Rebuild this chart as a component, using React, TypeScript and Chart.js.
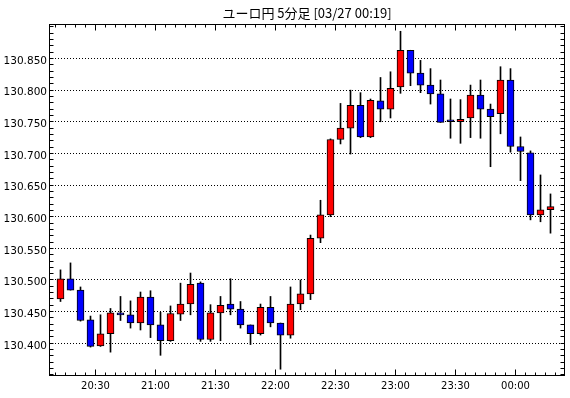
import React, { useEffect, useRef } from "react";
import { Chart, registerables } from "chart.js";

Chart.register(...registerables);

const TITLE = "ユーロ円 5分足 [03/27 00:19]";

// first candle: 20:10, minutes counted from 20:00; 5-minute candles
const START_MINUTE = 10;
const STEP_MINUTES = 5;

const OPEN = [
  130.47, 130.502, 130.484, 130.437, 130.396, 130.415, 130.448, 130.445, 130.432, 130.473,
  130.429, 130.404, 130.446, 130.462, 130.495, 130.406, 130.448, 130.462, 130.454, 130.429,
  130.415, 130.457, 130.432, 130.413, 130.462, 130.478, 130.566, 130.603, 130.722, 130.74,
  130.776, 130.726, 130.783, 130.77, 130.805, 130.863, 130.827, 130.808, 130.794, 130.751,
  130.75, 130.756, 130.792, 130.77, 130.763, 130.816, 130.711, 130.701, 130.603, 130.611,
];
const HIGH = [
  130.516, 130.527, 130.489, 130.443, 130.445, 130.455, 130.474, 130.467, 130.481, 130.483,
  130.449, 130.459, 130.495, 130.511, 130.497, 130.461, 130.474, 130.502, 130.466, 130.429,
  130.462, 130.474, 130.432, 130.489, 130.5, 130.571, 130.626, 130.723, 130.779, 130.8,
  130.796, 130.786, 130.82, 130.829, 130.893, 130.863, 130.847, 130.834, 130.816, 130.786,
  130.785, 130.808, 130.816, 130.778, 130.837, 130.834, 130.726, 130.704, 130.666, 130.636,
];
const LOW = [
  130.466, 130.484, 130.435, 130.394, 130.395, 130.386, 130.436, 130.424, 130.421, 130.409,
  130.381, 130.403, 130.436, 130.445, 130.403, 130.403, 130.404, 130.445, 130.424, 130.398,
  130.413, 130.426, 130.359, 130.408, 130.453, 130.469, 130.559, 130.6, 130.715, 130.699,
  130.725, 130.725, 130.75, 130.756, 130.795, 130.807, 130.796, 130.778, 130.749, 130.724,
  130.716, 130.725, 130.724, 130.679, 130.731, 130.702, 130.657, 130.595, 130.592, 130.574,
];
const CLOSE = [
  130.502, 130.484, 130.436, 130.395, 130.415, 130.448, 130.445, 130.432, 130.473, 130.429,
  130.404, 130.447, 130.462, 130.493, 130.406, 130.448, 130.46, 130.454, 130.429, 130.415,
  130.457, 130.432, 130.413, 130.462, 130.478, 130.566, 130.603, 130.722, 130.74, 130.776,
  130.726, 130.784, 130.77, 130.803, 130.863, 130.827, 130.808, 130.794, 130.749, 130.75,
  130.754, 130.792, 130.77, 130.758, 130.816, 130.711, 130.703, 130.603, 130.611, 130.616,
];

const Y_TICKS = [130.4, 130.45, 130.5, 130.55, 130.6, 130.65, 130.7, 130.75, 130.8, 130.85];
const X_TICKS = [30, 60, 90, 120, 150, 180, 210, 240];
const X_TICK_LABELS = ["20:30", "21:00", "21:30", "22:00", "22:30", "23:00", "23:30", "00:00"];

const X_MIN = 6.75;
const X_MAX = 264.75;
const Y_MIN = 130.3483;
const Y_MAX = 130.9045;

const UP_COLOR = "#ff0000";
const DOWN_COLOR = "#0000ff";

const framePlugin = {
  id: "framePlugin",
  beforeDatasetsDraw(chart: any) {
    const { ctx, chartArea } = chart;
    const ys = chart.scales.y;
    ctx.save();
    ctx.strokeStyle = "#000";
    ctx.lineWidth = 1;
    ctx.setLineDash([1, 2]);
    for (const v of Y_TICKS) {
      const py = Math.floor(ys.getPixelForValue(v)) + 0.5;
      ctx.beginPath();
      ctx.moveTo(chartArea.left, py);
      ctx.lineTo(chartArea.right, py);
      ctx.stroke();
    }
    ctx.restore();
  },
  afterDraw(chart: any) {
    const { ctx, chartArea } = chart;
    const xs = chart.scales.x;
    const ys = chart.scales.y;
    const L = Math.floor(chartArea.left) + 0.5;
    const R = Math.floor(chartArea.right) - 0.5;
    const T = Math.floor(chartArea.top) + 0.5;
    const B = Math.floor(chartArea.bottom) - 0.5;
    ctx.save();
    ctx.strokeStyle = "#000";
    ctx.lineWidth = 1;
    ctx.setLineDash([]);
    ctx.strokeRect(L, T, R - L, B - T);
    ctx.beginPath();
    // y minor ticks every 0.01
    for (let k = 35; k <= 90; k++) {
      const v = 130 + k / 100;
      const py = Math.floor(ys.getPixelForValue(v)) + 0.5;
      if (py <= T || py >= B) continue;
      ctx.moveTo(L, py);
      ctx.lineTo(L + 4, py);
      ctx.moveTo(R, py);
      ctx.lineTo(R - 4, py);
    }
    // x ticks every 5 minutes
    for (let m = 10; m <= 260; m += 5) {
      const px = Math.floor(xs.getPixelForValue(m)) + 0.5;
      if (px <= L || px >= R) continue;
      const len = m % 30 === 0 ? 6 : 3;
      ctx.moveTo(px, B);
      ctx.lineTo(px, B - len);
      ctx.moveTo(px, T);
      ctx.lineTo(px, T + len);
    }
    ctx.stroke();
    ctx.restore();
  },
};

export default function App() {
  const ref = useRef<HTMLCanvasElement | null>(null);

  useEffect(() => {
    if (!ref.current) return;
    const xs = OPEN.map((_, i) => START_MINUTE + i * STEP_MINUTES + STEP_MINUTES / 2);
    const chart = new Chart(ref.current, {
      type: "bar",
      data: {
        datasets: [
          {
            label: "wick",
            data: xs.map((x, i) => ({ x, y: [LOW[i], HIGH[i]] })) as any,
            backgroundColor: "#000",
            borderWidth: 0,
            barThickness: 1,
            grouped: false,
            order: 2,
          } as any,
          {
            label: "body",
            data: xs.map((x, i) => ({ x, y: [OPEN[i], CLOSE[i]] })) as any,
            backgroundColor: (c: any) =>
              CLOSE[c.dataIndex] >= OPEN[c.dataIndex] ? UP_COLOR : DOWN_COLOR,
            borderColor: "#000",
            borderWidth: 1,
            borderSkipped: false,
            barThickness: 7,
            minBarLength: 2,
            grouped: false,
            order: 1,
          } as any,
        ],
      },
      options: {
        animation: false,
        responsive: false,
        devicePixelRatio: 1,
        layout: { padding: { left: 0, right: 5, top: 0, bottom: 0 } },
        plugins: {
          legend: { display: false },
          tooltip: { enabled: false },
          title: {
            display: true,
            text: TITLE,
            fullSize: false,
            color: "#000",
            font: { family: "'Noto Sans CJK JP', sans-serif", size: 13, weight: "normal" },
            padding: { top: 5, bottom: 3.4 },
          },
        },
        scales: {
          x: {
            type: "linear",
            min: X_MIN,
            max: X_MAX,
            offset: false,
            grid: { display: false, drawTicks: false, offset: false },
            border: { display: false },
            afterBuildTicks: (scale: any) => {
              scale.ticks = X_TICKS.map((v) => ({ value: v }));
            },
            afterFit: (scale: any) => {
              scale.height = 22;
            },
            ticks: {
              autoSkip: false,
              maxRotation: 0,
              padding: 4,
              color: "#000",
              font: { family: "'DejaVu Sans', sans-serif", size: 10 },
              callback: (value: any) => {
                const i = X_TICKS.indexOf(Number(value));
                return i >= 0 ? X_TICK_LABELS[i] : "";
              },
            },
          },
          y: {
            type: "linear",
            min: Y_MIN,
            max: Y_MAX,
            grid: { display: false, drawTicks: false },
            border: { display: false },
            afterBuildTicks: (scale: any) => {
              scale.ticks = Y_TICKS.map((v) => ({ value: v }));
            },
            afterFit: (scale: any) => {
              scale.width = 49;
            },
            ticks: {
              autoSkip: false,
              padding: 2,
              labelOffset: 2.5,
              color: "#000",
              font: { family: "'DejaVu Sans', sans-serif", size: 10.5 },
              callback: (value: any) => Number(value).toFixed(3),
            },
          },
        },
      },
      plugins: [framePlugin],
    });
    return () => chart.destroy();
  }, []);

  return (
    <div style={{ position: "absolute", left: 0, top: 0, width: 570, height: 398, background: "#fff" }}>
      <canvas ref={ref} width={570} height={398} style={{ display: "block" }} />
    </div>
  );
}
